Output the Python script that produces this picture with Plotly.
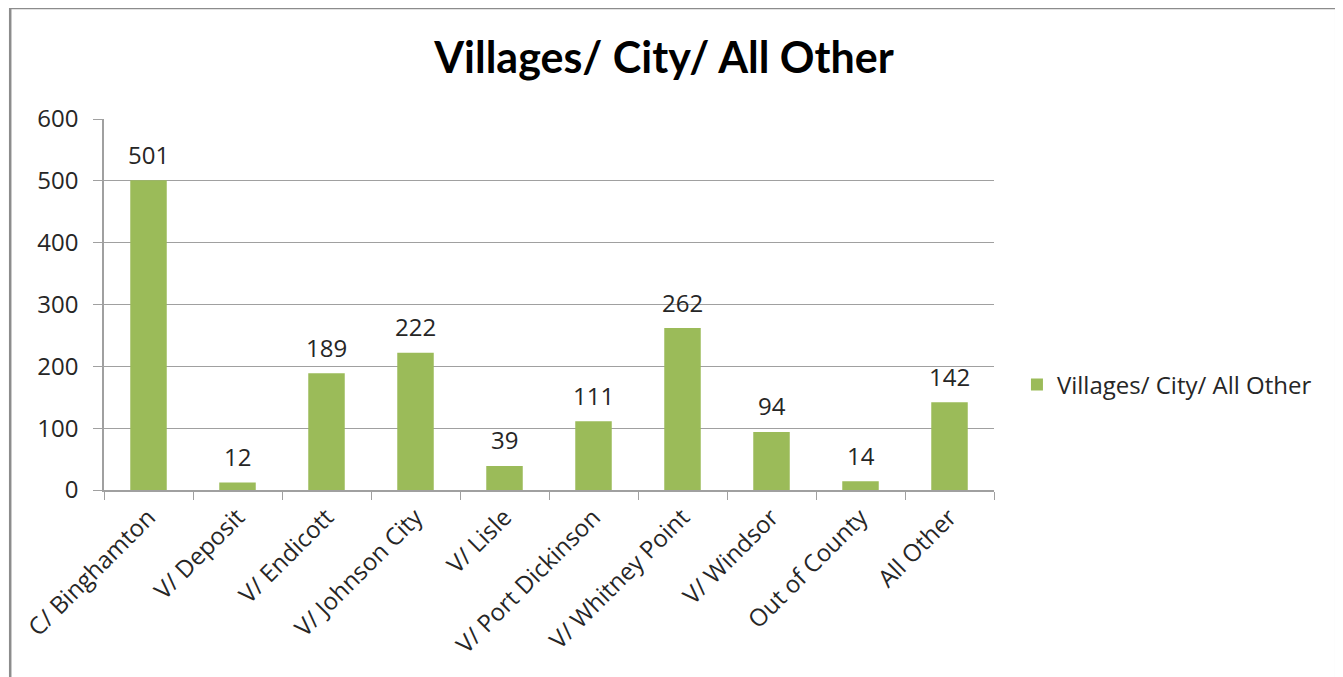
import plotly.graph_objects as go

categories = ["C/ Binghamton", "V/ Deposit", "V/ Endicott", "V/ Johnson City", "V/ Lisle",
              "V/ Port Dickinson", "V/ Whitney Point", "V/ Windsor", "Out of County", "All Other"]
values = [501, 12, 189, 222, 39, 111, 262, 94, 14, 142]
series_name = "Villages/ City/ All Other"
y_ticks = [0, 100, 200, 300, 400, 500, 600]

W, H = 1343, 677
OFF = 8  # page body margin
# plot area in screen pixels
L, R, T, B = 102, 994, 119, 490

FONT = "Open Sans, Lato, sans-serif"
TXT = "#262626"
FS = 24

fig = go.Figure()
fig.add_trace(go.Bar(
    x=categories, y=values, name=series_name,
    marker=dict(color="#9bbb59", line=dict(width=0)),
    width=0.41,
))

for c, v in zip(categories, values):
    fig.add_annotation(x=c, y=v, xref="x", yref="y", text=str(v), showarrow=False,
                       yanchor="middle", yshift=26,
                       font=dict(size=FS, color=TXT, family=FONT))

def px_x(px):
    return (px - L) / (R - L)

def px_y(py):
    return (B - py) / (B - T)

fig.add_shape(type="rect", xref="paper", yref="paper",
              x0=px_x(8), x1=px_x(1337),
              y0=px_y(720), y1=px_y(8),
              line=dict(color="#8c8c8c", width=2.5), fillcolor="rgba(0,0,0,0)", layer="below")

fig.update_layout(
    width=W, height=H,
    margin=dict(l=L - OFF, r=W - (R - OFF), t=T - OFF, b=H - (B - OFF), pad=0),
    paper_bgcolor="white", plot_bgcolor="white",
    title=dict(text="<b>" + series_name + "</b>", x=(664 - OFF) / W, xanchor="center",
               y=1 - (58 - OFF) / H, yanchor="middle",
               font=dict(size=43, color="#000000", family="Lato, Open Sans, sans-serif")),
    showlegend=True,
    legend=dict(x=px_x(1017), xanchor="left", y=px_y(385), yanchor="middle",
                font=dict(size=FS, color=TXT, family=FONT),
                bgcolor="rgba(0,0,0,0)"),
    font=dict(family=FONT, color=TXT),
    bargap=0.59,
)
fig.update_xaxes(
    type="category", tickangle=-45, tickson="boundaries", ticks="outside", ticklen=8,
    tickcolor="#a0a0a0", showline=True, linecolor="#a0a0a0", linewidth=1.5,
    showgrid=False, tickfont=dict(size=FS, color=TXT), ticklabelstandoff=2,
)
fig.update_yaxes(
    range=[0, 600], tickvals=y_ticks, ticks="outside", ticklen=9, tickcolor="#a0a0a0",
    showline=True, linecolor="#a0a0a0", linewidth=1.5,
    showgrid=True, gridcolor="#a0a0a0", gridwidth=1.2, zeroline=False,
    tickfont=dict(size=FS, color=TXT), ticklabelstandoff=10,
)
fig.write_html("out.html")
